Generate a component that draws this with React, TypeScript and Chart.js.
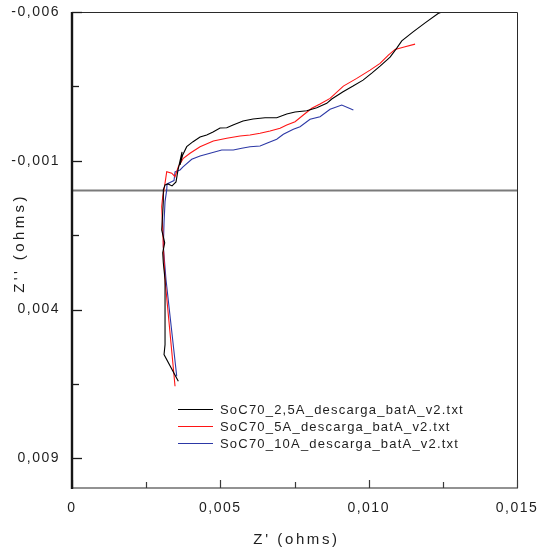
import React, { useEffect, useRef } from 'react';
import { Chart, registerables } from 'chart.js';

Chart.register(...registerables);

const seriesLabels = [
  'SoC70_2,5A_descarga_batA_v2.txt',
  'SoC70_5A_descarga_batA_v2.txt',
  'SoC70_10A_descarga_batA_v2.txt',
];
const seriesColors = ['#000000', '#ff1414', '#2c38a6'];

// Z' (ohms) and Z'' (ohms) per series
const zRe25A = [0.003584, 0.003102, 0.003136, 0.003136, 0.003136, 0.003078, 0.003058, 0.003125, 0.003024, 0.003058, 0.003078, 0.003078, 0.003136, 0.003237, 0.003372, 0.003506, 0.003574, 0.003709, 0.003641, 0.003732, 0.003867, 0.00408, 0.004316, 0.004541, 0.004754, 0.00499, 0.005216, 0.005428, 0.005765, 0.006103, 0.006507, 0.006901, 0.007239, 0.007519, 0.007913, 0.00825, 0.008587, 0.008756, 0.009137, 0.009474, 0.009811, 0.010104, 0.010384, 0.010722, 0.010947, 0.011116, 0.011497, 0.011902, 0.01234, 0.012475, 0.01325];
const zIm25A = [0.006413, 0.005517, 0.005181, 0.003896, 0.003, 0.00243, 0.002094, 0.001758, 0.001322, 0.000752, 0.000372, -0.00002, -0.000188, -0.000221, -0.000154, -0.000289, -0.000691, -0.001295, -0.000859, -0.001195, -0.001473, -0.001641, -0.001799, -0.001866, -0.001966, -0.002101, -0.002111, -0.002201, -0.002336, -0.002403, -0.002446, -0.002446, -0.00257, -0.002638, -0.002681, -0.002782, -0.00293, -0.003074, -0.003319, -0.00351, -0.003711, -0.003946, -0.004181, -0.004483, -0.004785, -0.00503, -0.005332, -0.005634, -0.00595, -0.006, -0.006];

const zRe5A = [0.003473, 0.003136, 0.003078, 0.003058, 0.003024, 0.003058, 0.003102, 0.003193, 0.003361, 0.003473, 0.003584, 0.003753, 0.003978, 0.004316, 0.004764, 0.005216, 0.005664, 0.006001, 0.006339, 0.006676, 0.007013, 0.007239, 0.007519, 0.007798, 0.008082, 0.008361, 0.008699, 0.009147, 0.009599, 0.010047, 0.010384, 0.010664, 0.01089, 0.011227, 0.011564];
const zIm5A = [0.00658, 0.003, 0.001883, 0.001322, 0.00054, 0.000205, -0.00002, -0.000634, -0.000581, -0.000466, -0.000802, -0.001084, -0.001252, -0.001473, -0.001664, -0.001755, -0.001832, -0.001866, -0.001923, -0.002, -0.002091, -0.002201, -0.002312, -0.002537, -0.002762, -0.002906, -0.003097, -0.00351, -0.003768, -0.004047, -0.004272, -0.00455, -0.004742, -0.004829, -0.00492];

const zRe10A = [0.00353, 0.003169, 0.003078, 0.003102, 0.003136, 0.003193, 0.003203, 0.003338, 0.003439, 0.003473, 0.003641, 0.003742, 0.004036, 0.004316, 0.004653, 0.005047, 0.005438, 0.005722, 0.006001, 0.006339, 0.006564, 0.006901, 0.007124, 0.007461, 0.007687, 0.008024, 0.008361, 0.008699, 0.009093, 0.009484];
const zIm10A = [0.006245, 0.003, 0.001883, 0.001087, 0.000372, -0.00002, -0.000221, -0.000289, -0.000332, -0.000624, -0.000691, -0.000792, -0.00105, -0.001161, -0.001252, -0.001362, -0.001362, -0.001419, -0.001473, -0.001497, -0.001587, -0.001721, -0.001889, -0.002057, -0.002144, -0.002393, -0.00248, -0.002728, -0.002872, -0.002705];

const xRange = [0, 0.015];
const yRange = [-0.006, 0.01];
const xMajorTicks = [0, 0.005, 0.01, 0.015];
const xMinorTicks = [0.0025, 0.0075, 0.0125];
const yMajorTicks = [-0.006, -0.001, 0.004, 0.009];
const yMinorTicks = [-0.0035, 0.0015, 0.0065];
const zeroLine = [0, 0];

const xTitle = "Z' (ohms)";
const yTitle = "Z'' (ohms)";

const FONT = "'Liberation Sans', Arial, sans-serif";

const fmt = (v: number) => {
  if (Math.abs(v) < 1e-12) return '0';
  return v.toFixed(3).replace('.', ',');
};
const isMajor = (v: number, list: number[]) => list.some((m) => Math.abs(m - v) < 1e-9);

const toPoints = (xs: number[], ys: number[]) => xs.map((x, i) => ({ x, y: ys[i] }));

const framePlugin = {
  id: 'frame',
  beforeUpdate(chart: any) {
    chart.ctx.letterSpacing = '1.5px';
  },
  beforeDraw(chart: any) {
    chart.ctx.letterSpacing = '1.5px';
  },
  afterDraw(chart: any) {
    const { ctx, chartArea: a, scales } = chart;
    const xs = scales.x;
    const ys = scales.y;
    ctx.save();
    // top and right frame
    ctx.strokeStyle = '#2a2a2a';
    ctx.lineWidth = 1;
    ctx.beginPath();
    ctx.moveTo(a.left, a.top + 0.5);
    ctx.lineTo(a.right + 0.5, a.top + 0.5);
    ctx.lineTo(a.right + 0.5, a.bottom);
    ctx.stroke();
    // bottom axis
    ctx.strokeStyle = '#6e6e6e';
    ctx.lineWidth = 1.5;
    ctx.beginPath();
    ctx.moveTo(a.left, a.bottom);
    ctx.lineTo(a.right + 1, a.bottom);
    ctx.stroke();
    // x ticks (inward)
    ctx.lineWidth = 1.2;
    ctx.strokeStyle = '#3a3a3a';
    xMajorTicks.concat(xMinorTicks).forEach((v) => {
      const px = Math.round(xs.getPixelForValue(v)) + 0.5;
      const len = isMajor(v, xMajorTicks) ? 8 : 6;
      ctx.beginPath();
      ctx.moveTo(px, a.bottom);
      ctx.lineTo(px, a.bottom - len);
      ctx.stroke();
    });
    // left axis
    ctx.strokeStyle = '#161616';
    ctx.lineWidth = 2.4;
    ctx.beginPath();
    ctx.moveTo(a.left, a.top);
    ctx.lineTo(a.left, a.bottom + 1);
    ctx.stroke();
    // y ticks (inward)
    ctx.lineWidth = 1.3;
    ctx.strokeStyle = '#1a1a1a';
    yMajorTicks.concat(yMinorTicks).forEach((v) => {
      const py = Math.round(ys.getPixelForValue(v)) + 0.5;
      const len = isMajor(v, yMajorTicks) ? 10 : 7;
      ctx.beginPath();
      ctx.moveTo(a.left, py);
      ctx.lineTo(a.left + len, py);
      ctx.stroke();
    });

    // axis titles
    ctx.fillStyle = '#1e1e1e';
    ctx.font = `15px ${FONT}`;
    ctx.letterSpacing = '2.6px';
    ctx.textAlign = 'center';
    ctx.textBaseline = 'middle';
    ctx.fillText(xTitle, (a.left + a.right) / 2 + 2, 540);
    ctx.save();
    ctx.translate(20, (a.top + a.bottom) / 2 - 7);
    ctx.rotate(-Math.PI / 2);
    ctx.letterSpacing = '3.4px';
    ctx.fillText(yTitle, 0, 0);
    ctx.restore();

    // legend
    ctx.font = `13px ${FONT}`;
    ctx.letterSpacing = '1.2px';
    ctx.textAlign = 'left';
    ctx.textBaseline = 'middle';
    const rows = [a.bottom - 79, a.bottom - 62, a.bottom - 45];
    seriesLabels.forEach((label, i) => {
      const y = rows[i];
      ctx.strokeStyle = seriesColors[i];
      ctx.lineWidth = 1.2;
      ctx.beginPath();
      ctx.moveTo(a.left + 106, Math.round(y) + 0.5);
      ctx.lineTo(a.left + 141, Math.round(y) + 0.5);
      ctx.stroke();
      ctx.fillStyle = '#1e1e1e';
      ctx.fillText(label, a.left + 148, y + 1);
    });
    ctx.restore();
  },
};

export default function App() {
  const canvasRef = useRef<HTMLCanvasElement | null>(null);

  useEffect(() => {
    const canvas = canvasRef.current;
    if (!canvas) return;
    const series = [
      toPoints(zRe25A, zIm25A),
      toPoints(zRe5A, zIm5A),
      toPoints(zRe10A, zIm10A),
    ];
    const datasets: any[] = series.map((pts, i) => ({
      label: seriesLabels[i],
      data: pts,
      showLine: true,
      borderColor: seriesColors[i],
      backgroundColor: seriesColors[i],
      borderWidth: 1.1,
      pointRadius: 0,
      tension: 0,
      order: i,
    }));
    datasets.push({
      label: 'zero',
      data: [
        { x: xRange[0], y: zeroLine[0] },
        { x: xRange[1], y: zeroLine[1] },
      ],
      showLine: true,
      borderColor: '#7a7a7a',
      borderWidth: 2,
      pointRadius: 0,
      order: 10,
    });

    const tickFont = { family: FONT, size: 14 };
    const chart = new Chart(canvas, {
      type: 'scatter',
      data: { datasets },
      plugins: [framePlugin],
      options: {
        animation: false,
        responsive: false,
        devicePixelRatio: 1,
        layout: { padding: { top: 12, right: 21, left: 0, bottom: 0 } },
        plugins: { legend: { display: false }, tooltip: { enabled: false } },
        scales: {
          x: {
            type: 'linear',
            min: xRange[0],
            max: xRange[1],
            afterBuildTicks: (s: any) => {
              s.ticks = xMajorTicks.map((v) => ({ value: v }));
            },
            afterFit: (s: any) => {
              s.height = 66;
              s.paddingLeft = 0;
              s.paddingRight = 0;
              s.paddingTop = 0;
              s.paddingBottom = 0;
            },
            grid: { display: false, drawTicks: false },
            border: { display: false },
            ticks: {
              autoSkip: false,
              maxRotation: 0,
              padding: 12,
              color: '#1e1e1e',
              font: tickFont,
              callback: (v: any) => fmt(Number(v)),
            },
          },
          y: {
            type: 'linear',
            reverse: true,
            min: yRange[0],
            max: yRange[1],
            afterBuildTicks: (s: any) => {
              s.ticks = yMajorTicks.map((v) => ({ value: v }));
            },
            afterFit: (s: any) => {
              s.width = 72;
              s.paddingLeft = 0;
              s.paddingRight = 0;
              s.paddingTop = 0;
              s.paddingBottom = 0;
            },
            grid: { display: false, drawTicks: false },
            border: { display: false },
            ticks: {
              autoSkip: false,
              padding: 12,
              color: '#1e1e1e',
              font: tickFont,
              callback: (v: any) => fmt(Number(v)),
            },
          },
        },
      } as any,
    });
    return () => chart.destroy();
  }, []);

  return (
    <div style={{ position: 'absolute', left: 0, top: 0, width: 538, height: 554, background: '#fff' }}>
      <canvas ref={canvasRef} width={538} height={554} style={{ display: 'block', width: 538, height: 554 }} />
    </div>
  );
}
